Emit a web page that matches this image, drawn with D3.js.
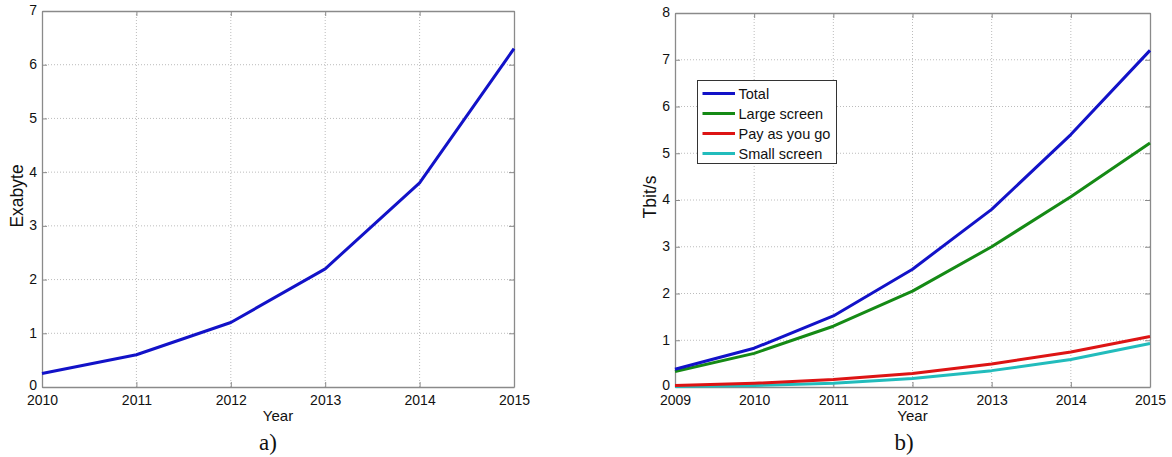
<!DOCTYPE html>
<html>
<head>
<meta charset="utf-8">
<script src="https://cdn.jsdelivr.net/npm/d3@7"></script>
<style>
  body { margin: 0; background: #fff; }
  svg { display: block; }
</style>
</head>
<body>
<svg id="fig" width="1172" height="457"></svg>
<script>
// Panel a) – yearly traffic volume
const yearsA = [2010, 2011, 2012, 2013, 2014, 2015];
const exabyte = [0.25, 0.6, 1.2, 2.2, 3.8, 6.3];

// Panel b) – bit rate per service
const yearsB = [2009, 2010, 2011, 2012, 2013, 2014, 2015];
const seriesNames = ["Total", "Large screen", "Pay as you go", "Small screen"];
const totalRate = [0.38, 0.83, 1.52, 2.52, 3.8, 5.4, 7.2];
const largeScreen = [0.33, 0.72, 1.3, 2.05, 3.0, 4.07, 5.22];
const payAsYouGo = [0.03, 0.08, 0.16, 0.29, 0.49, 0.75, 1.08];
const smallScreen = [0.01, 0.03, 0.08, 0.18, 0.35, 0.59, 0.93];
const seriesColors = ["#1212c8", "#158a15", "#dd1414", "#22bcbc"];

const yTicksA = [0, 1, 2, 3, 4, 5, 6, 7];
const yTicksB = [0, 1, 2, 3, 4, 5, 6, 7, 8];

const svg = d3.select("#fig");
const FONT = "Liberation Sans, Arial, sans-serif";

function panel(opts) {
  const { x0, x1, y0, y1, xDomain, yDomain, xTicks, yTicks, yLabel, caption, captionX } = opts;
  const x = d3.scaleLinear().domain(xDomain).range([x0, x1]);
  const y = d3.scaleLinear().domain(yDomain).range([y1, y0]);
  const g = svg.append("g");

  // dotted grid
  g.selectAll(".gx").data(xTicks.slice(1, -1)).join("line")
    .attr("x1", d => x(d)).attr("x2", d => x(d)).attr("y1", y0).attr("y2", y1)
    .attr("stroke", "#bcbcbc").attr("stroke-width", 1).attr("stroke-dasharray", "1,2");
  g.selectAll(".gy").data(yTicks.slice(1, -1)).join("line")
    .attr("x1", x0).attr("x2", x1).attr("y1", d => y(d)).attr("y2", d => y(d))
    .attr("stroke", "#bcbcbc").attr("stroke-width", 1).attr("stroke-dasharray", "1,2");

  // axes with inward ticks (box on all four sides)
  const ax = (gen, tx, ty, fmt) => g.append("g").attr("transform", `translate(${tx},${ty})`)
    .call(gen.tickSizeInner(-5).tickSizeOuter(0).tickFormat(fmt));
  const fmtNum = d3.format("d");
  const bottom = ax(d3.axisBottom(x).tickValues(xTicks), 0, y1, fmtNum);
  const left = ax(d3.axisLeft(y).tickValues(yTicks), x0, 0, fmtNum);
  const top = ax(d3.axisTop(x).tickValues(xTicks), 0, y0, () => "");
  const right = ax(d3.axisRight(y).tickValues(yTicks), x1, 0, () => "");
  [bottom, left, top, right].forEach(a => {
    a.select(".domain").attr("stroke", "#8a8a8a").attr("stroke-width", 1.3);
    a.selectAll(".tick line").attr("stroke", "#8a8a8a");
    a.selectAll("text").attr("font-family", FONT).attr("font-size", 14).attr("fill", "#111");
  });
  bottom.selectAll("text").attr("y", 8).attr("dy", "0.71em");
  left.selectAll("text").attr("x", -5).attr("dy", "0.28em");
  // the zero label sits just above the first year label
  left.selectAll(".tick").filter(d => d === 0).select("text").attr("dy", "0.18em");

  // axis titles
  g.append("text").attr("x", (x0 + x1) / 2).attr("y", y1 + 34)
    .attr("text-anchor", "middle").attr("font-family", FONT).attr("font-size", 15).attr("fill", "#111")
    .text("Year");
  g.append("text")
    .attr("transform", `translate(${x0 - 19},${(y0 + y1) / 2 - 3}) rotate(-90)`)
    .attr("text-anchor", "middle").attr("font-family", FONT).attr("font-size", 17.5).attr("fill", "#111")
    .text(yLabel);
  // panel caption
  g.append("text").attr("x", captionX).attr("y", y1 + 63)
    .attr("text-anchor", "middle").attr("font-family", "Liberation Serif, Times New Roman, serif")
    .attr("font-size", 23).attr("fill", "#111").text(caption);

  return { x, y, g };
}

// ---- a) ----
const pa = panel({
  x0: 42, x1: 514, y0: 11, y1: 387,
  xDomain: [2010, 2015], yDomain: [0, 7],
  xTicks: yearsA, yTicks: yTicksA, yLabel: "Exabyte", caption: "a)", captionX: 268
});
pa.g.append("path")
  .datum(yearsA.map((yr, i) => [yr, exabyte[i]]))
  .attr("fill", "none").attr("stroke", seriesColors[0]).attr("stroke-width", 3)
  .attr("stroke-linejoin", "round")
  .attr("d", d3.line().x(d => pa.x(d[0])).y(d => pa.y(d[1])));

// ---- b) ----
const pb = panel({
  x0: 675, x1: 1150, y0: 13, y1: 387,
  xDomain: [2009, 2015], yDomain: [0, 8],
  xTicks: yearsB, yTicks: yTicksB, yLabel: "Tbit/s", caption: "b)", captionX: 904
});
const seriesB = [totalRate, largeScreen, payAsYouGo, smallScreen];
const lineB = d3.line().x(d => pb.x(d[0])).y(d => pb.y(d[1]));
// draw from back to front so Total ends up on top
seriesB.slice().reverse().forEach((vals, ri) => {
  const i = seriesB.length - 1 - ri;
  pb.g.append("path")
    .datum(yearsB.map((yr, k) => [yr, vals[k]]))
    .attr("fill", "none").attr("stroke", seriesColors[i]).attr("stroke-width", 3)
    .attr("stroke-linejoin", "round")
    .attr("d", lineB);
});

// legend
const leg = pb.g.append("g").attr("transform", "translate(697.5,80.5)");
leg.append("rect").attr("width", 139).attr("height", 83)
  .attr("fill", "#fff").attr("stroke", "#333").attr("stroke-width", 1);
seriesNames.forEach((name, i) => {
  const yy = 13 + i * 20;
  leg.append("line").attr("x1", 5).attr("x2", 37.5).attr("y1", yy).attr("y2", yy)
    .attr("stroke", seriesColors[i]).attr("stroke-width", 3);
  leg.append("text").attr("x", 41).attr("y", yy).attr("dy", "0.36em")
    .attr("font-family", FONT).attr("font-size", 14.5).attr("fill", "#111").text(name);
});
</script>
</body>
</html>
